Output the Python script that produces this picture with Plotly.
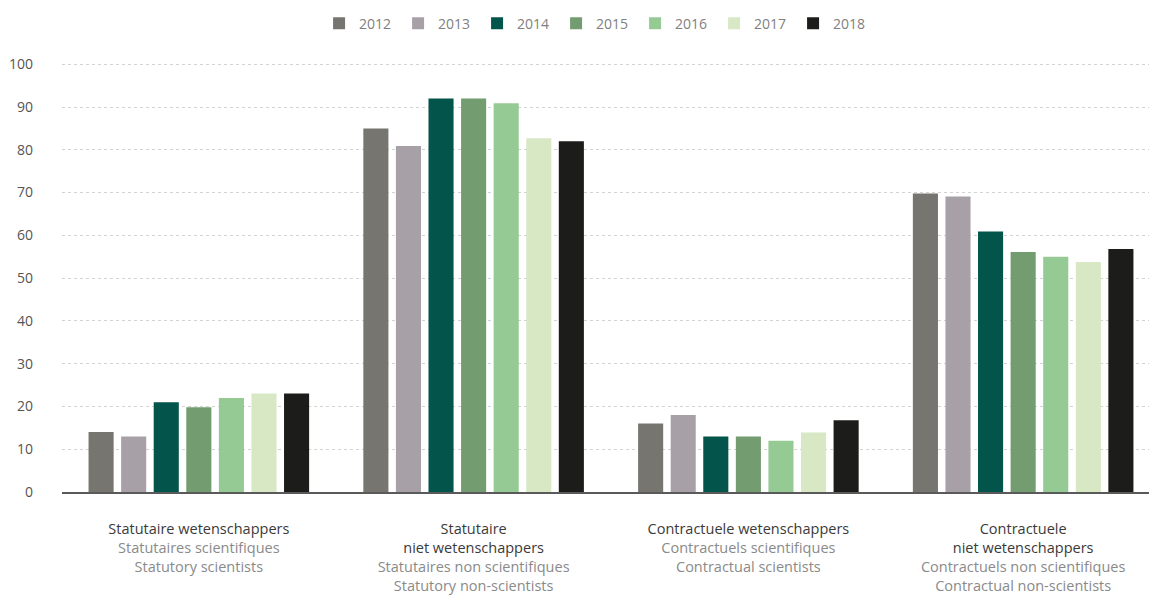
import plotly.graph_objects as go

categories = [
    "Statutaire wetenschappers<br><span style='color:#8a8a8a'>Statutaires scientifiques</span><br><span style='color:#8a8a8a'>Statutory scientists</span>",
    "Statutaire<br>niet wetenschappers<br><span style='color:#8a8a8a'>Statutaires non scientifiques</span><br><span style='color:#8a8a8a'>Statutory non-scientists</span>",
    "Contractuele wetenschappers<br><span style='color:#8a8a8a'>Contractuels scientifiques</span><br><span style='color:#8a8a8a'>Contractual scientists</span>",
    "Contractuele<br>niet wetenschappers<br><span style='color:#8a8a8a'>Contractuels non scientifiques</span><br><span style='color:#8a8a8a'>Contractual non-scientists</span>",
]
category_keys = ["SW", "SNW", "CW", "CNW"]

years = ["2012", "2013", "2014", "2015", "2016", "2017", "2018"]
values_2012 = [14, 85, 16, 69.8]
values_2013 = [13, 80.9, 18, 69.1]
values_2014 = [21, 92, 13, 60.9]
values_2015 = [19.8, 92, 13, 56.1]
values_2016 = [22, 90.9, 12, 55]
values_2017 = [23, 82.7, 13.9, 53.8]
values_2018 = [23, 82, 16.8, 56.8]
series = [values_2012, values_2013, values_2014, values_2015, values_2016, values_2017, values_2018]
colors = ["#76756f", "#a7a1a7", "#03544a", "#739c70", "#96ca94", "#d8e8c5", "#1c1c1a"]

y_ticks = [0, 10, 20, 30, 40, 50, 60, 70, 80, 90, 100]

fig = go.Figure()
for yr, vals, col in zip(years, series, colors):
    fig.add_trace(go.Bar(name=yr, x=category_keys, y=vals, marker=dict(color=col, line=dict(width=0))))

fig.update_layout(
    width=1149, height=598,
    margin=dict(l=62, r=0, t=60, b=106, autoexpand=False),
    paper_bgcolor="white", plot_bgcolor="white",
    barmode="group", bargap=0.17, bargroupgap=0.23,
    font=dict(family="Open Sans", size=14, color="#555555"),
    legend=dict(
        orientation="h", x=0.2365, xanchor="left", y=1.084, yanchor="middle",
        font=dict(size=14, color="#808080"),
        entrywidth=34, entrywidthmode="pixels",
        itemclick=False,
    ),
    showlegend=True,
)
fig.update_xaxes(
    tickmode="array", tickvals=category_keys, ticktext=categories,
    range=[-0.498, 3.458], showline=True, linecolor="#5a5a5a", linewidth=2,
    showgrid=False, ticks="", ticklabelstandoff=23, automargin=False,
    tickfont=dict(size=14.5, color="#3a3a3a"),
)
fig.update_yaxes(
    range=[0, 101], tickvals=y_ticks, showgrid=True, gridcolor="#d2d2d2", griddash="dot",
    gridwidth=1, zeroline=False, ticks="", ticklabelstandoff=28, automargin=False,
    tickfont=dict(size=14, color="#555555"),
)

fig.write_html("out.html")
